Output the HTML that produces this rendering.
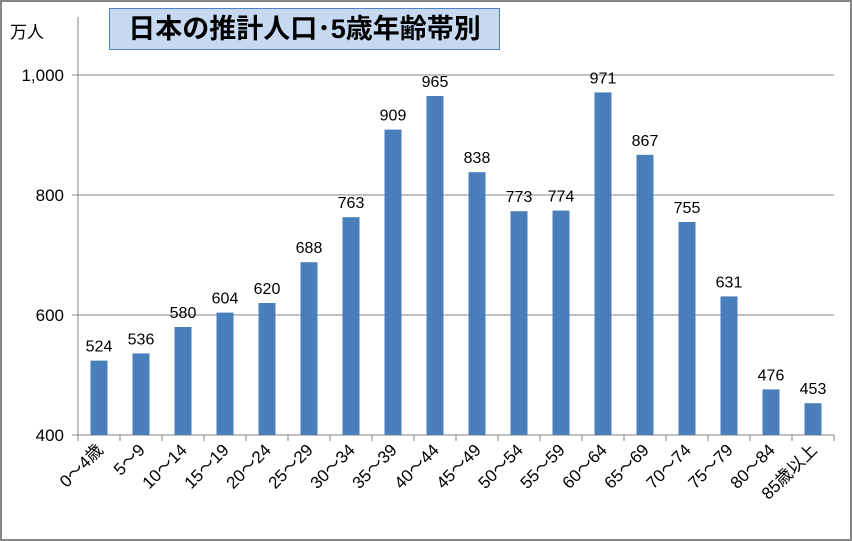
<!DOCTYPE html>
<html><head><meta charset="utf-8">
<style>
html,body{margin:0;padding:0;background:#fff;}
#wrap{position:relative;width:852px;height:541px;overflow:hidden;font-family:"Liberation Sans","Noto Sans CJK JP",sans-serif;}
#frame{position:absolute;left:0;top:0;width:848px;height:537px;border:2px solid #868686;}
#title{position:absolute;left:109px;top:8px;width:391px;height:42px;background:#c6d9f1;border:1px solid #4f81bd;box-sizing:border-box;font-weight:bold;font-size:27px;line-height:40px;text-align:center;color:#000;white-space:nowrap;}
</style></head><body>
<div id="wrap">
<div id="frame"></div>
<svg id="svg" width="852" height="541" style="position:absolute;left:0;top:0"></svg>
<div id="title">日本の推計人口･5歳年齢帯別</div>
</div>
<script>
const categories=["0～4歳","5～9","10～14","15～19","20～24","25～29","30～34","35～39","40～44","45～49","50～54","55～59","60～64","65～69","70～74","75～79","80～84","85歳以上"];
const values=[524,536,580,604,620,688,763,909,965,838,773,774,971,867,755,631,476,453];
const yTicks=[400,600,800,1000];
const yTickLabels=["400","600","800","1,000"];
const NS="http://www.w3.org/2000/svg";
const svg=document.getElementById('svg');
const X0=78,X1=834,Y0=435,Y1=75,YMIN=400,YMAX=1000;
const band=(X1-X0)/categories.length;
function y(v){return Y0-(v-YMIN)/(YMAX-YMIN)*(Y0-Y1);}
function xc(i){return X0+band*(i+0.5);}
function mk(t,a,txt){const e=document.createElementNS(NS,t);for(const k in a)e.setAttribute(k,a[k]);if(txt!==undefined)e.textContent=txt;svg.appendChild(e);return e;}
const ff='"Liberation Sans","Noto Sans CJK JP",sans-serif';
yTicks.forEach((v,i)=>{
  if(v>YMIN){const g=mk('line',{x1:X0,x2:X1,y1:y(v),y2:y(v),stroke:'#868686','stroke-width':1});
  
  }
  const tk=mk('line',{x1:X0-6,x2:X0,y1:y(v),y2:y(v),stroke:'#868686'});
  
  
  const t=mk('text',{x:X0-14,y:y(v)+6,'text-anchor':'end','font-size':17,'font-family':ff,fill:'#000'},yTickLabels[i]);
  
  
});
const ax=mk('line',{x1:X0,x2:X0,y1:17,y2:Y0,stroke:'#868686'});


const xa=mk('line',{x1:X0,x2:X1,y1:Y0,y2:Y0,stroke:'#868686'});


const unit=mk('text',{x:10,y:38,'font-size':17,'font-family':ff,fill:'#000'},'万人');


for(let i=0;i<=categories.length;i++){
  const t=mk('line',{x1:X0+band*i,x2:X0+band*i,y1:Y0,y2:Y0+6,stroke:'#868686'});
  
  
}
values.forEach((v,i)=>{
  const bw=17;
  const r=mk('rect',{x:xc(i)-bw/2,y:y(v),width:bw,height:Y0-y(v),fill:'#4a7ebb'});
  
  
  const l=mk('text',{x:xc(i),y:y(v)-9,'text-anchor':'middle','font-size':16,'font-family':ff,fill:'#000'},String(v));
  
  
  const c=mk('text',{x:xc(i)+5,y:Y0+16,'text-anchor':'end','font-size':17,'font-family':ff,fill:'#000',transform:`rotate(-45 ${xc(i)+5} ${Y0+16})`},categories[i]);
  
  
});
</script>
</body></html>
